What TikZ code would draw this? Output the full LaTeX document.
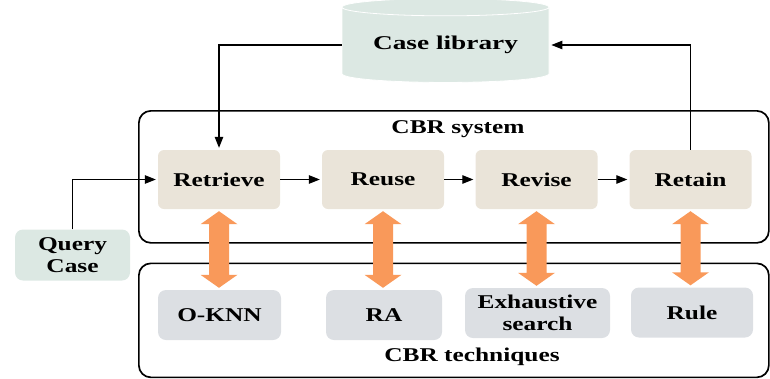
\documentclass[tikz,border=0pt]{standalone}
\usepackage{fontspec}
\setmainfont{Liberation Serif}[FakeStretch=1.3]
\newfontfamily\libfont{Liberation Serif}[FakeStretch=1.4]
\usetikzlibrary{shapes.geometric,arrows.meta,calc}
\definecolor{libfill}{HTML}{DCE8E3}
\definecolor{stagefill}{HTML}{EAE4D9}
\definecolor{techfill}{HTML}{DCDFE3}
\definecolor{arrowfill}{HTML}{F9995A}
\begin{document}
\begin{tikzpicture}[x=1pt,y=-1pt,
  lbl/.style={font=\fontsize{19.5}{22}\selectfont\bfseries},
  stage/.style={lbl, rectangle, rounded corners=6pt, fill=stagefill,
    minimum width=122pt, minimum height=59pt, inner sep=0pt},
  tech/.style={lbl, rectangle, rounded corners=8pt, fill=techfill,
    minimum height=50pt, inner sep=0pt, align=center},
  panel/.style={draw=black, line width=1.7pt, rounded corners=12pt,
    rectangle, inner sep=0pt, anchor=north west},
  link/.style={draw=black, line width=1.1pt, shorten >=2pt,
    -{Triangle[length=11pt,width=8.5pt]}},
  bigarrow/.style={fill=arrowfill}
]
\useasboundingbox (0,0) rectangle (770,378);

% case library store
\node[cylinder, shape border rotate=90, aspect=0.12,
  minimum width=207pt, minimum height=84pt, inner sep=0pt,
  fill=libfill, draw=white, line width=0.8pt,
  font=\fontsize{19.5}{22}\selectfont\libfont\bfseries] (lib) at (445.5,45) {Case library};

% the two frames
\node[panel, minimum width=630pt, minimum height=132pt] (sys) at (138,110) {};
\node[panel, minimum width=630pt, minimum height=114pt] (techs) at (138,262.5) {};
\node[lbl] (systitle) at (458,129) {CBR system};
\node[lbl] (techtitle) at (472,357) {CBR techniques};

% the four stages
\node[stage] (retrieve) at (219,179.5) {Retrieve};
\node[stage] (reuse)    at (383,179.5) {Reuse};
\node[stage] (revise)   at (536.5,179.5) {Revise};
\node[stage] (retain)   at (690.5,179.5) {Retain};

% techniques
\node[tech, minimum width=123pt] (oknn) at (219.5,315) {O-KNN};
\node[tech, minimum width=116pt] (ra)   at (384,315) {RA};
\node[tech, minimum width=145pt] (exh)  at (537.5,313) {Exhaustive\\search};
\node[tech, minimum width=122pt] (rule) at (692,312.5) {Rule};

% query
\node[lbl, rectangle, rounded corners=8pt, fill=libfill, minimum width=115pt,
  minimum height=51pt, inner sep=0pt, align=center] (query) at (72.5,255) {Query\\Case};

% connectors
\draw[link] (lib.west) -| (retrieve.north);
\draw[link] (retain.north) |- (lib.east);
\draw[link] (query.north) |- (retrieve.west);
\draw[link] (retrieve.east) -- (reuse.west);
\draw[link] (reuse.east) -- (revise.west);
\draw[link] (revise.east) -- (retain.west);

% two-headed links between stages and techniques
\foreach \s/\t in {retrieve/oknn, reuse/ra, revise/exh, retain/rule} {
  \coordinate (a) at ($(\s.south)+(0,2)$);
  \coordinate (b) at ($(\s.south |- \t.north)+(0,-2)$);
  \fill[bigarrow] (a) -- ++(18.5,13) -- ++(-8.5,0) -- ($(b)+(10,-13)$)
    -- ++(8.5,0) -- (b) -- ++(-18.5,-13) -- ++(8.5,0)
    -- ($(a)+(-10,13)$) -- ++(-8.5,0) -- cycle;
}
\end{tikzpicture}
\end{document}
